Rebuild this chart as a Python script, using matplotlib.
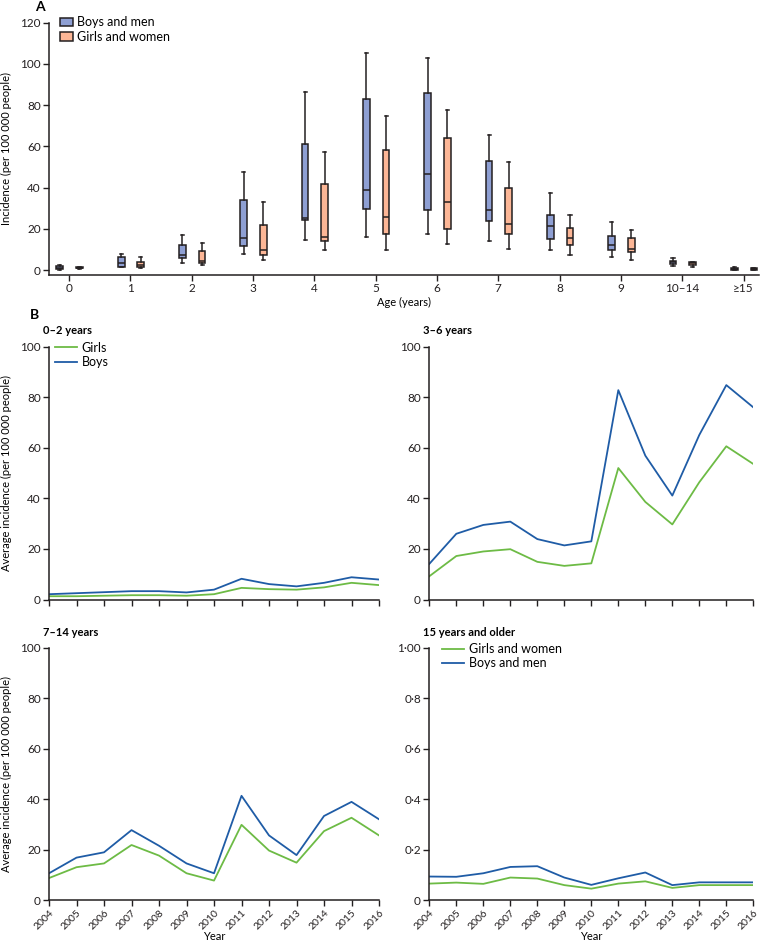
import matplotlib.pyplot as plt
import numpy as np

plt.rcParams['font.family'] = ['Lato', 'DejaVu Sans']
plt.rcParams['font.size'] = 8

# ---- Panel A: box plots by age ----
age_labels = ['0', '1', '2', '3', '4', '5', '6', '7', '8', '9', '10–14', '≥15']

boys_low = [0.0, 1.4, 3.4, 7.9, 14.7, 15.8, 17.7, 14.2, 9.8, 6.4, 1.9, 0.0]
boys_q1 = [0.4, 1.7, 5.8, 11.8, 24.4, 29.6, 28.9, 23.7, 15.0, 9.7, 2.9, 0.0]
boys_med = [1.0, 3.5, 7.1, 15.3, 25.3, 38.8, 46.8, 28.9, 21.5, 11.9, 3.8, 0.5]
boys_q3 = [1.9, 6.4, 11.9, 34.1, 61.1, 82.9, 86.1, 52.8, 26.5, 16.5, 4.5, 1.2]
boys_high = [2.4, 7.9, 17.0, 47.5, 86.3, 105.3, 102.9, 65.7, 37.5, 23.3, 5.8, 1.3]

girls_low = [0.5, 0.8, 2.4, 5.0, 9.7, 9.8, 12.4, 10.3, 7.3, 5.1, 1.6, 0.0]
girls_q1 = [0.8, 1.3, 3.5, 7.1, 14.2, 17.7, 20.0, 17.7, 12.1, 8.7, 2.4, 0.0]
girls_med = [1.0, 2.4, 4.2, 9.5, 16.0, 25.7, 33.1, 22.3, 15.5, 10.0, 3.3, 0.5]
girls_q3 = [1.3, 3.9, 9.2, 21.8, 41.8, 58.3, 64.0, 40.0, 20.5, 15.5, 3.8, 1.1]
girls_high = [1.6, 6.1, 12.9, 33.0, 57.2, 74.6, 77.8, 52.3, 26.8, 19.4, 4.0, 1.2]

# ---- Panel B: yearly average incidence ----
years = list(range(2004, 2017))

boys_0_2 = [2.1, 2.5, 2.9, 3.3, 3.3, 2.8, 3.9, 8.2, 6.1, 5.2, 6.6, 8.8, 7.9]
girls_0_2 = [1.3, 1.3, 1.5, 1.7, 1.7, 1.5, 2.1, 4.6, 4.1, 3.9, 4.8, 6.6, 5.7]

boys_3_6 = [14.1, 26.0, 29.5, 30.8, 23.9, 21.4, 23.0, 82.8, 56.9, 41.1, 65.1, 84.8, 76.0]
girls_3_6 = [9.2, 17.2, 19.0, 19.9, 14.9, 13.3, 14.3, 52.0, 38.6, 29.7, 46.4, 60.6, 53.6]

boys_7_14 = [10.7, 16.9, 19.0, 27.8, 21.6, 14.6, 10.7, 41.4, 25.7, 17.9, 33.4, 39.0, 32.1]
girls_7_14 = [8.8, 13.1, 14.6, 21.9, 17.7, 10.7, 7.8, 29.9, 19.7, 14.9, 27.4, 32.7, 25.7]

men_15 = [0.094, 0.093, 0.107, 0.132, 0.135, 0.090, 0.061, 0.087, 0.110, 0.060, 0.071, 0.071, 0.071]
women_15 = [0.066, 0.070, 0.065, 0.090, 0.086, 0.060, 0.046, 0.066, 0.075, 0.049, 0.060, 0.060, 0.060]

blue_box = '#8e9fd3'
orange_box = '#fcb696'
edge = '#231f20'
green = '#6dbb45'
blue = '#1f5ca6'

fig = plt.figure(figsize=(7.6, 9.41), dpi=100)


def style_axes(ax):
    for s in ['top', 'right']:
        ax.spines[s].set_visible(False)
    for s in ['left', 'bottom']:
        ax.spines[s].set_linewidth(1.1)
        ax.spines[s].set_color(edge)
    ax.tick_params(direction='out', length=4, width=1, color=edge, labelcolor='#231f20',
                   pad=2, labelsize=8.5)


# panel A
axA = fig.add_axes([0.0645, 0.7078, 0.934, 0.2681])
style_axes(axA)
pos = np.arange(len(age_labels))


def make_stats(lo, q1, med, q3, hi):
    return [dict(whislo=a, q1=b, med=c, q3=d, whishi=e, fliers=[])
            for a, b, c, d, e in zip(lo, q1, med, q3, hi)]


common = dict(widths=0.11, patch_artist=True, showfliers=False, manage_ticks=False,
              medianprops=dict(color=edge, linewidth=1.1),
              whiskerprops=dict(color=edge, linewidth=1.1),
              capprops=dict(color=edge, linewidth=1.1), capwidths=0.05)
axA.bxp(make_stats(boys_low, boys_q1, boys_med, boys_q3, boys_high), positions=pos - 0.15,
        boxprops=dict(facecolor=blue_box, edgecolor=edge, linewidth=1.1), **common)
axA.bxp(make_stats(girls_low, girls_q1, girls_med, girls_q3, girls_high), positions=pos + 0.17,
        boxprops=dict(facecolor=orange_box, edgecolor=edge, linewidth=1.1), **common)
axA.set_xlim(-0.326, 11.25)
axA.set_ylim(-2.4, 120)
axA.set_yticks(np.arange(0, 121, 20))
axA.set_xticks(pos)
axA.set_xticklabels(age_labels)
axA.set_xlabel('Age (years)', labelpad=2)
axA.set_ylabel('Incidence (per 100 000 people)')
axA.yaxis.set_label_coords(-0.052, 0.5)
hA = [plt.Rectangle((0, 0), 1, 1, facecolor=blue_box, edgecolor=edge, linewidth=1.1),
      plt.Rectangle((0, 0), 1, 1, facecolor=orange_box, edgecolor=edge, linewidth=1.1)]
axA.legend(hA, ['Boys and men', 'Girls and women'], loc='upper left', bbox_to_anchor=(0.016, 1.025),
           frameon=False, borderpad=0, borderaxespad=0, handlelength=1.0, handleheight=0.7,
           handletextpad=0.35, labelspacing=0.2, fontsize=9)
fig.text(35 / 760, 1 - 7 / 941, 'A', fontsize=10, fontweight='bold', ha='left', va='center')

# panel B
fig.text(30 / 760, 1 - 315 / 941, 'B', fontsize=10, fontweight='bold', ha='left', va='center')

panels = [
    ([0.0645, 0.3629, 0.4342, 0.2687], '0–2 years', girls_0_2, boys_0_2, ['Girls', 'Boys'], 100),
    ([0.5649, 0.3629, 0.4263, 0.2687], '3–6 years', girls_3_6, boys_3_6, None, 100),
    ([0.0645, 0.0433, 0.4342, 0.2681], '7–14 years', girls_7_14, boys_7_14, None, 100),
    ([0.5649, 0.0433, 0.4263, 0.2681], '15 years and older', women_15, men_15,
     ['Girls and women', 'Boys and men'], 1),
]

for i, (rect, title, g, b, leg, ymax) in enumerate(panels):
    ax = fig.add_axes(rect)
    style_axes(ax)
    ax.plot(years, g, color=green, linewidth=1.3, label=leg[0] if leg else None)
    ax.plot(years, b, color=blue, linewidth=1.3, label=leg[1] if leg else None)
    ax.set_xlim(2004, 2016)
    ax.set_ylim(0, ymax)
    ax.set_xticks(years)
    if ymax == 1:
        ax.set_yticks([0, 0.2, 0.4, 0.6, 0.8, 1.0])
        ax.set_yticklabels(['0', '0·2', '0·4', '0·6', '0·8', '1·00'])
    else:
        ax.set_yticks(np.arange(0, 101, 20))
    if i >= 2:
        ax.set_xticklabels([str(y) for y in years], rotation=45, ha='right',
                           rotation_mode='anchor', fontsize=7.5)
        cx = rect[0] + rect[2] / 2
        fig.text(cx, 1 - 936.5 / 941, 'Year', ha='center', va='center', fontsize=8)
    else:
        ax.set_xticklabels([])
    if i % 2 == 0:
        ax.set_ylabel('Average incidence (per 100 000 people)')
        ax.yaxis.set_label_coords(-0.112, 0.5)
    ax.text(-0.018, 1.063, title, transform=ax.transAxes, fontweight='bold', fontsize=8,
            ha='left', va='center')
    if leg:
        ax.legend(loc='upper left', bbox_to_anchor=(0.018 if i == 0 else 0.038, 1.02),
                  frameon=False, borderpad=0, borderaxespad=0, handlelength=1.8,
                  handletextpad=0.35, labelspacing=0.2, fontsize=9)

fig.savefig('out.png', dpi=100)
